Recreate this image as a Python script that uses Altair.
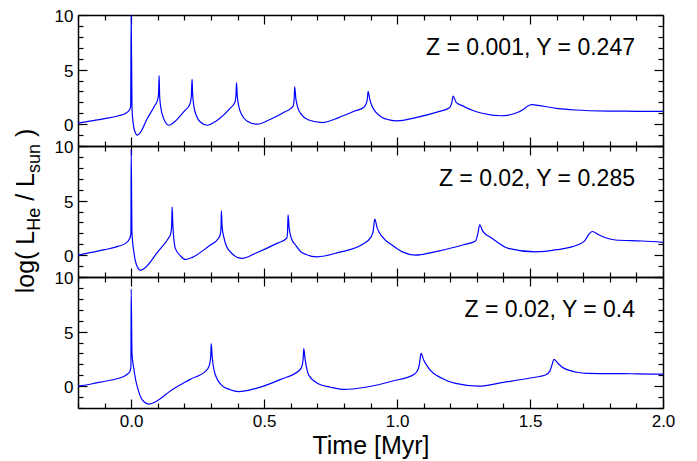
import altair as alt
import pandas as pd

# ---------------- data ----------------
# Panel 1: Z = 0.001, Y = 0.247
t1 = [-0.2, -0.15, -0.1, -0.05, -0.02, -0.008, -0.002, 0.0, 0.003, 0.008, 0.014, 0.023, 0.035,
      0.06, 0.09, 0.099, 0.103, 0.105, 0.107, 0.111, 0.118, 0.128, 0.142, 0.16, 0.2, 0.221,
      0.226, 0.229, 0.231, 0.236, 0.245, 0.26, 0.286, 0.32, 0.37, 0.39, 0.394, 0.396, 0.399,
      0.405, 0.415, 0.435, 0.474, 0.52, 0.58, 0.608, 0.613, 0.615, 0.619, 0.627, 0.64, 0.665,
      0.718, 0.78, 0.84, 0.875, 0.884, 0.888, 0.891, 0.897, 0.907, 0.944, 0.97, 1.0, 1.07,
      1.15, 1.197, 1.205, 1.211, 1.222, 1.245, 1.28, 1.32, 1.389, 1.44, 1.477, 1.49, 1.508,
      1.53, 1.6, 1.671, 1.8, 1.9, 2.0]
l1 = [0.1, 0.3, 0.5, 0.75, 1.0, 1.25, 1.6, 10.0, 1.5, 0.0, -0.7, -1.0, -0.75,
      0.5, 1.75, 2.2, 2.8, 4.45, 2.6, 1.6, 0.8, 0.2, -0.1, 0.15, 1.2, 1.85,
      2.5, 4.1, 2.8, 1.6, 0.8, 0.2, -0.1, 0.3, 1.4, 2.0, 2.6, 3.8, 2.6,
      1.6, 0.9, 0.3, 0.0, 0.4, 1.15, 1.6, 2.3, 3.45, 2.4, 1.5, 0.9, 0.4,
      0.15, 0.6, 1.2, 1.55, 1.9, 2.3, 3.0, 2.3, 1.6, 0.62, 0.4, 0.3, 0.6,
      1.1, 1.5, 1.9, 2.56, 2.0, 1.7, 1.3, 1.0, 0.77, 0.95, 1.39, 1.65, 1.79,
      1.72, 1.45, 1.3, 1.2, 1.18, 1.17]

# Panel 2: Z = 0.02, Y = 0.285
t2 = [-0.2, -0.15, -0.1, -0.05, -0.02, -0.006, -0.001, 0.0, 0.003, 0.01, 0.023, 0.035, 0.05,
      0.1, 0.14, 0.148, 0.152, 0.154, 0.157, 0.166, 0.185, 0.204, 0.23, 0.29, 0.33, 0.336,
      0.338, 0.339, 0.342, 0.35, 0.367, 0.417, 0.47, 0.55, 0.585, 0.588, 0.59, 0.594, 0.603,
      0.618, 0.643, 0.70, 0.78, 0.87, 0.903, 0.91, 0.916, 0.925, 0.944, 0.982, 1.02, 1.069,
      1.15, 1.25, 1.295, 1.303, 1.311, 1.322, 1.357, 1.418, 1.521, 1.6, 1.68, 1.705, 1.718,
      1.734, 1.76, 1.784, 1.821, 1.922, 2.0]
l2 = [0.0, 0.25, 0.5, 0.8, 1.1, 1.5, 2.0, 9.7, 2.0, 0.3, -1.07, -1.39, -1.2,
      0.3, 1.55, 1.9, 2.6, 4.42, 2.6, 0.62, -0.05, -0.4, -0.2, 0.8, 1.6, 2.0,
      2.6, 4.07, 2.6, 1.5, 0.46, -0.3, 0.2, 1.1, 1.55, 2.1, 3.7, 2.5, 1.5,
      0.93, 0.22, -0.15, 0.25, 1.0, 1.7, 2.2, 3.3, 2.5, 1.7, 0.9, 0.3, 0.0,
      0.35, 0.95, 1.3, 1.9, 2.78, 2.2, 1.55, 0.62, 0.3, 0.5, 0.95, 1.3, 1.8,
      2.17, 1.85, 1.6, 1.39, 1.3, 1.18]

# Panel 3: Z = 0.02, Y = 0.4
t3 = [-0.2, -0.15, -0.1, -0.05, -0.02, -0.006, -0.001, 0.0, 0.003, 0.01, 0.016, 0.029, 0.041,
      0.066, 0.09, 0.15, 0.22, 0.285, 0.295, 0.299, 0.301, 0.305, 0.317, 0.342, 0.37, 0.405,
      0.47, 0.56, 0.635, 0.644, 0.647, 0.649, 0.654, 0.668, 0.706, 0.75, 0.8, 0.88, 0.98,
      1.065, 1.08, 1.085, 1.09, 1.1, 1.12, 1.17, 1.22, 1.307, 1.4, 1.5, 1.56, 1.575, 1.582,
      1.59, 1.605, 1.62, 1.671, 1.72, 1.8, 1.85, 1.9, 2.0]
l3 = [0.0, 0.2, 0.45, 0.7, 1.0, 1.3, 1.7, 8.9, 3.0, 1.6, 0.68, -0.55, -1.24,
      -1.64, -1.45, -0.4, 0.6, 1.5, 2.0, 2.7, 3.9, 2.6, 1.0, 0.05, -0.3, -0.5,
      -0.2, 0.6, 1.5, 2.0, 2.6, 3.45, 2.5, 1.0, 0.2, -0.1, -0.3, -0.1, 0.45,
      1.1, 1.6, 2.2, 3.0, 2.4, 1.6, 0.7, 0.25, 0.0, 0.35, 0.75, 1.05, 1.4, 1.9,
      2.46, 2.1, 1.75, 1.3, 1.17, 1.14, 1.15, 1.13, 1.1]

panel_labels = ["Z = 0.001, Y = 0.247", "Z = 0.02, Y = 0.285", "Z = 0.02, Y = 0.4"]

x_ticks = [round(-0.2 + 0.1 * i, 1) for i in range(23)]
y_ticks = list(range(-2, 11))

# ---------------- styling ----------------
FONT = "Liberation Sans"
W, H = 585, 131
X_MAJOR = "abs(datum.value * 2 - round(datum.value * 2)) < 0.001"
Y_MAJOR = "datum.value % 5 == 0"

xs = alt.Scale(domain=[-0.2, 2.0], nice=False, zero=False)
ys = alt.Scale(domain=[-2, 10], nice=False, zero=False)


def x_axis(orient, show_labels):
    kw = dict(
        orient=orient,
        values=x_ticks,
        grid=False,
        labels=show_labels,
        tickSize=alt.ExprRef(expr=f"{X_MAJOR} ? -9 : -5"),
        labelOverlap=False,
        labelBound=False,
        labelFlush=False,
    )
    if show_labels:
        kw.update(labelExpr=f"{X_MAJOR} ? format(datum.value, '.1f') : ''",
                  labelPadding=14, title="Time [Myr]", titlePadding=0)
    else:
        kw.update(title="")
    return alt.Axis(**kw)


def y_axis(orient, show_labels):
    kw = dict(
        orient=orient,
        values=y_ticks,
        grid=False,
        labels=show_labels,
        tickSize=alt.ExprRef(expr=f"{Y_MAJOR} ? -9 : -5"),
        labelOverlap=False,
        labelBound=False,
        labelFlush=False,
        title="",
    )
    if show_labels:
        kw.update(labelExpr=f"{Y_MAJOR} ? datum.label : ''", labelPadding=14, labelOffset=1.5)
    return alt.Axis(**kw)


def panel(t, l, label, bottom, extra=()):
    df = pd.DataFrame({"t": t, "l": l})
    base = alt.Chart(df)
    line = base.mark_line(color="#0000ff", strokeWidth=1.2, clip=True,
                          interpolate="monotone").encode(
        x=alt.X("t:Q", scale=xs, axis=x_axis("bottom", bottom)),
        y=alt.Y("l:Q", scale=ys, axis=y_axis("left", True)),
    )
    frame = base.mark_line(opacity=0).encode(
        x=alt.X("t:Q", scale=xs, axis=x_axis("top", False)),
        y=alt.Y("l:Q", scale=ys, axis=y_axis("right", False)),
    )
    txt = alt.Chart(alt.Data(values=[{}])).mark_text(
        align="right", baseline="middle", fontSize=23, font=FONT, color="black"
    ).encode(x=alt.value(557), y=alt.value(32.5), text=alt.value(label))
    return alt.layer(line, frame, txt, *extra).resolve_axis(
        x="independent", y="independent"
    ).properties(width=W, height=H)


def ylab_piece(text, size, px, py):
    return alt.Chart(alt.Data(values=[{}])).mark_text(
        align="left", baseline="alphabetic", angle=270, fontSize=size, font=FONT, color="black"
    ).encode(x=alt.value(px), y=alt.value(py), text=alt.value(text))


BIG, SMALL = 25, 18
ylabel = [
    ylab_piece("log( L", BIG, -44, 147.3),
    ylab_piece("He", SMALL, -38, 84.8),
    ylab_piece("/ L", BIG, -44, 54.8),
    ylab_piece("sun", SMALL, -38, 27.0),
    ylab_piece(")", BIG, -44, -9.0),
]

p1 = panel(t1, l1, panel_labels[0], False)
p2 = panel(t2, l2, panel_labels[1], False, ylabel)
p3 = panel(t3, l3, panel_labels[2], True)

chart = alt.vconcat(p1, p2, p3, spacing=0, bounds="flush").properties(
    padding={"left": 5, "top": -1, "right": 5, "bottom": 5}
).configure_view(stroke=None).configure_axis(
    domainColor="black", domainWidth=1.5, tickColor="black", tickWidth=1.2,
    labelFont=FONT, labelFontSize=17, labelColor="black",
    titleFont=FONT, titleFontSize=25, titleColor="black", titleFontWeight="normal",
)

chart.save("out.html", embed_options={"renderer": "svg", "actions": False})
